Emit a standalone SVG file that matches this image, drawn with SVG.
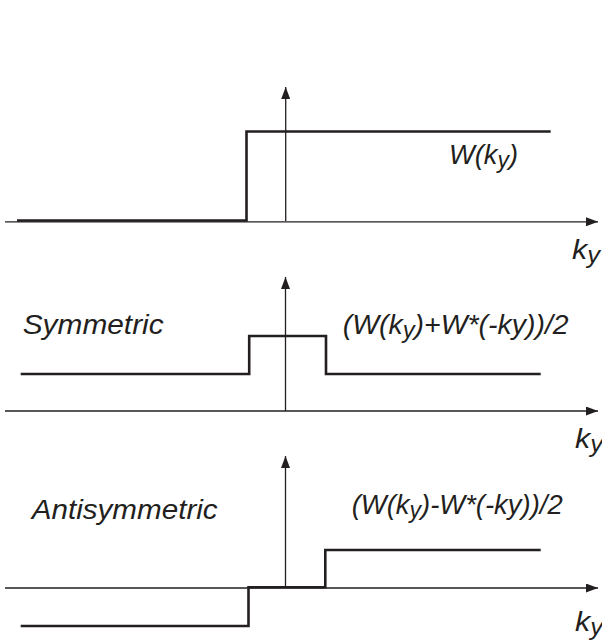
<svg xmlns="http://www.w3.org/2000/svg" width="602" height="642" viewBox="0 0 602 642">
  <style>
    .axis { fill: none; stroke: #231f20; stroke-width: 1.3; }
    .func { fill: none; stroke: #231f20; stroke-width: 2.6; stroke-linejoin: miter; stroke-linecap: butt; }
    .lbl { font-family: "Liberation Sans", Arial, Helvetica, sans-serif; font-style: italic; font-size: 27.5px; fill: #231f20; }
    .sub { font-size: 23px; }
  </style>
  <defs>
    <marker id="arr" viewBox="0 0 12 9" markerWidth="12" markerHeight="9" refX="12" refY="4.5" orient="auto" markerUnits="userSpaceOnUse">
      <path d="M0,0 L12,4.5 L0,9 z" fill="#231f20"/>
    </marker>
  </defs>
  <rect width="602" height="642" fill="#ffffff"/>

  <g id="panel-top">
    <path class="func" d="M17 220.5 H246.5 V131.5 H550.7"/>
    <line class="axis" x1="5" y1="221.8" x2="598" y2="221.8" marker-end="url(#arr)"/>
    <line class="axis" x1="285.7" y1="221" x2="285.7" y2="87" marker-end="url(#arr)"/>
    <text class="lbl" x="449" y="164" textLength="69" lengthAdjust="spacingAndGlyphs">W(k<tspan class="sub" dy="4">y</tspan><tspan dy="-4">)</tspan></text>
    <text class="lbl" x="572" y="259" textLength="28" lengthAdjust="spacingAndGlyphs">k<tspan class="sub" dy="4">y</tspan></text>
  </g>

  <g id="panel-symmetric">
    <path class="func" d="M20.7 374 H249.2 V336 H326 V374 H540.7"/>
    <line class="axis" x1="5" y1="411" x2="598" y2="411" marker-end="url(#arr)"/>
    <line class="axis" x1="285.5" y1="411" x2="285.5" y2="277" marker-end="url(#arr)"/>
    <text class="lbl" x="22.7" y="334" textLength="141" lengthAdjust="spacingAndGlyphs">Symmetric</text>
    <text class="lbl" x="342.7" y="334" textLength="226" lengthAdjust="spacingAndGlyphs">(W(k<tspan class="sub" dy="4">y</tspan><tspan dy="-4">)+W*(-ky))/2</tspan></text>
    <text class="lbl" x="575" y="448" textLength="28" lengthAdjust="spacingAndGlyphs">k<tspan class="sub" dy="4">y</tspan></text>
  </g>

  <g id="panel-antisymmetric">
    <path class="func" d="M20.7 626 H248.5 V587.3 H325.3 V550 H540.7"/>
    <line class="axis" x1="5" y1="588" x2="598" y2="588" marker-end="url(#arr)"/>
    <line class="axis" x1="285.5" y1="588" x2="285.5" y2="456" marker-end="url(#arr)"/>
    <text class="lbl" x="31.7" y="519" textLength="186" lengthAdjust="spacingAndGlyphs">Antisymmetric</text>
    <text class="lbl" x="351.7" y="514" textLength="211" lengthAdjust="spacingAndGlyphs">(W(k<tspan class="sub" dy="4">y</tspan><tspan dy="-4">)-W*(-ky))/2</tspan></text>
    <text class="lbl" x="575" y="631" textLength="28" lengthAdjust="spacingAndGlyphs">k<tspan class="sub" dy="4">y</tspan></text>
  </g>
</svg>
